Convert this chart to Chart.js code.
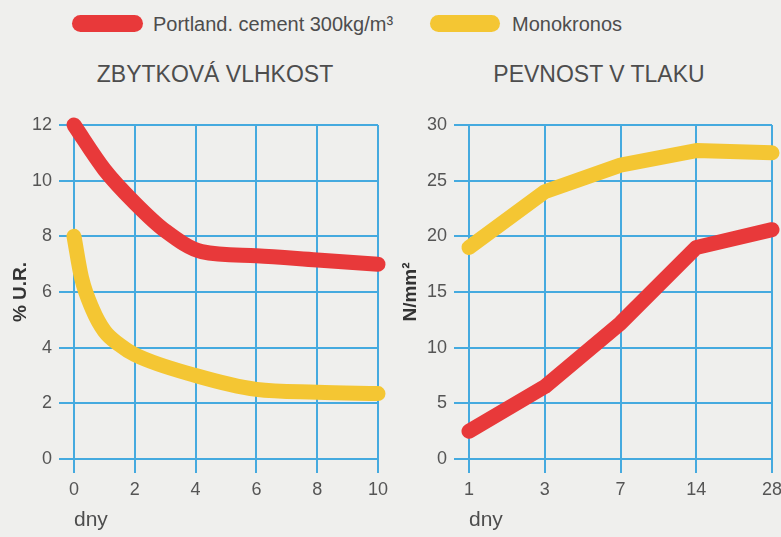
<!DOCTYPE html>
<html><head><meta charset="utf-8">
<script src="https://cdn.jsdelivr.net/npm/chart.js@4.4.1/dist/chart.umd.min.js"></script>
<style>
html,body{margin:0;padding:0;background:#efefed;width:781px;height:537px;overflow:hidden;font-family:"Liberation Sans",Arial,sans-serif;}
.wrap{position:relative;width:781px;height:537px;}
.pill{position:absolute;height:17px;border-radius:9px;}
.lt{position:absolute;font-size:20px;color:#4d4d4d;line-height:20px;white-space:nowrap;}
.ttl{position:absolute;font-size:23px;color:#4d4d4d;line-height:23px;text-align:center;width:300px;white-space:nowrap;}
.cv{position:absolute;top:0;}
</style></head>
<body><div class="wrap">
<div class="pill" style="left:72px;top:15px;width:71px;background:#e8393a"></div>
<div class="lt" style="left:153px;top:14px">Portland. cement 300kg/m³</div>
<div class="pill" style="left:430px;top:15px;width:70px;background:#f4c633"></div>
<div class="lt" style="left:512px;top:14px">Monokronos</div>
<div class="ttl" style="left:65px;top:63px">ZBYTKOVÁ VLHKOST</div>
<div class="ttl" style="left:449px;top:63px">PEVNOST V TLAKU</div>
<canvas id="c1" class="cv" width="390" height="537" style="left:0"></canvas>
<canvas id="c2" class="cv" width="391" height="537" style="left:390px"></canvas>
</div>
<script>
// ---- data ----
const seriesNames = ['Portland. cement 300kg/m³', 'Monokronos'];
// Residual moisture (% U.R.) vs days
const moistureDaysPortland = [0, 1, 2, 3, 4.2, 6, 8, 10];
const moisturePortland     = [12, 10.4, 9.2, 8.2, 7.45, 7.3, 7.15, 7.0];
const moistureDaysMono     = [0, 0.25, 0.6, 1, 1.5, 2, 4, 6, 8, 10];
const moistureMono         = [8, 6.5, 5.4, 4.6, 4.1, 3.75, 3.0, 2.5, 2.4, 2.35];
// Compressive strength (N/mm²) vs days
const strengthDays     = ['1', '3', '7', '14', '28'];
const strengthPortland = [2.5, 6.5, 12.2, 19.0, 20.6];
const strengthMono     = [19, 24, 26.4, 27.7, 27.5];

const RED = '#e8393a', YELLOW = '#f4c633', GRID = '#45aadf', TXT = '#555555';
Chart.defaults.font.family = "'Liberation Sans', Arial, sans-serif";
Chart.defaults.animation = false;

function pts(xs, ys){ return xs.map((x,i)=>({x:x, y:ys[i]})); }
function ds(label, data, color, mode){
  return {label, data, borderColor: color, backgroundColor: color, borderWidth: 15,
    borderCapStyle:'round', borderJoinStyle:'round', pointRadius:0, clip:false,
    cubicInterpolationMode: mode, tension: 0, fill:false};
}
function xScaleCommon(extra){
  return Object.assign({
    ticks:{padding:6, color:TXT, font:{size:18}, maxRotation:0, autoSkip:false},
    grid:{color:GRID, lineWidth:2, tickLength:14},
    border:{display:false},
    title:{display:true, text:'dny', align:'start', color:'#4d4d4d', font:{size:21, lineHeight:1}, padding:{top:0, bottom:6}},
    afterFit(s){ s.height = 78; s.paddingLeft = 0; s.paddingRight = 0; }
  }, extra);
}
function yScaleCommon(title, extra){
  return Object.assign({
    ticks:{padding:7, color:TXT, font:{size:18}},
    grid:{color:GRID, lineWidth:2, tickLength:15},
    border:{display:false},
    title:{display:true, text:title, color:'#333', font:{size:19, weight:'bold', lineHeight:1}, padding:{top:11, bottom:0}},
  }, extra);
}

new Chart(document.getElementById('c1'), {
  type:'line',
  data:{datasets:[
    ds(seriesNames[0], pts(moistureDaysPortland, moisturePortland), RED, 'monotone'),
    ds(seriesNames[1], pts(moistureDaysMono, moistureMono), YELLOW, 'monotone')
  ]},
  options:{
    responsive:false,
    layout:{padding:{top:125, right:12, left:0, bottom:0}},
    plugins:{legend:{display:false}, tooltip:{enabled:false}, title:{display:false}},
    scales:{
      x: xScaleCommon({type:'linear', min:0, max:10, ticks:{stepSize:2, padding:6, color:TXT, font:{size:18}, maxRotation:0}}),
      y: yScaleCommon('% U.R.', {min:0, max:12, ticks:{stepSize:2, padding:7, color:TXT, font:{size:18}}, afterFit(s){ s.width = 74; s.paddingTop = 0; s.paddingBottom = 0; }})
    }
  }
});

new Chart(document.getElementById('c2'), {
  type:'line',
  data:{labels: strengthDays, datasets:[
    ds(seriesNames[0], strengthPortland, RED, 'default'),
    ds(seriesNames[1], strengthMono, YELLOW, 'default')
  ]},
  options:{
    responsive:false,
    layout:{padding:{top:125, right:9, left:0, bottom:0}},
    plugins:{legend:{display:false}, tooltip:{enabled:false}, title:{display:false}},
    scales:{
      x: xScaleCommon({type:'category', offset:false}),
      y: yScaleCommon('N/mm²', {min:0, max:30, ticks:{stepSize:5, padding:7, color:TXT, font:{size:18}}, afterFit(s){ s.width = 79; s.paddingTop = 0; s.paddingBottom = 0; }})
    }
  }
});
</script>
</body></html>
